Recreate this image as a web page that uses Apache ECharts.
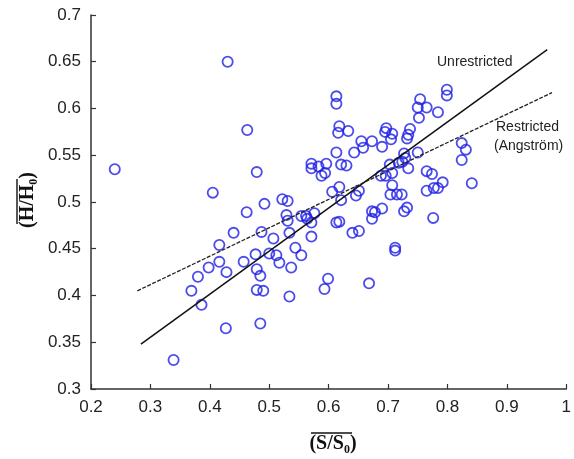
<!DOCTYPE html>
<html>
<head>
<meta charset="utf-8">
<script src="https://cdn.jsdelivr.net/npm/echarts@6/dist/echarts.min.js"></script>
<style>
html,body{margin:0;padding:0;background:#fff;}
#chart{width:574px;height:459px;}
</style>
</head>
<body>
<div id="chart"></div>
<script>
// Observed S/S0 values (x)
var sRatio = [
0.240,0.430,0.463,0.479,0.405,0.462,0.440,0.416,0.477,0.416,
0.457,0.398,0.428,0.380,0.479,0.485,0.369,0.479,0.490,0.386,
0.427,0.485,0.339,0.613,0.613,0.618,0.616,0.633,0.655,0.673,
0.658,0.690,0.613,0.643,0.571,0.571,0.583,0.596,0.588,0.594,
0.621,0.630,0.618,0.606,0.651,0.646,0.522,0.531,0.492,0.621,
0.697,0.695,0.707,0.705,0.737,0.734,0.732,0.754,0.750,0.765,
0.784,0.752,0.799,0.799,0.824,0.831,0.824,0.841,0.750,0.727,
0.729,0.724,0.718,0.734,0.703,0.707,0.688,0.696,0.707,0.704,
0.715,0.723,0.765,0.774,0.765,0.777,0.784,0.792,0.529,0.531,
0.554,0.562,0.564,0.571,0.576,0.613,0.618,0.673,0.678,0.690,
0.673,0.727,0.732,0.776,0.487,0.507,0.534,0.571,0.640,0.651,
0.500,0.512,0.517,0.544,0.554,0.537,0.534,0.599,0.593,0.668,
0.712,0.712
];
// Observed H/H0 values (y)
var hRatio = [
0.535,0.650,0.577,0.532,0.510,0.489,0.467,0.454,0.444,0.436,
0.436,0.430,0.425,0.420,0.428,0.421,0.405,0.406,0.405,0.390,
0.365,0.370,0.331,0.613,0.605,0.581,0.574,0.576,0.565,0.565,
0.558,0.559,0.553,0.553,0.541,0.536,0.538,0.541,0.528,0.531,
0.540,0.539,0.516,0.511,0.512,0.507,0.503,0.501,0.498,0.502,
0.579,0.575,0.573,0.567,0.578,0.572,0.568,0.610,0.601,0.601,
0.596,0.590,0.620,0.614,0.563,0.556,0.545,0.520,0.553,0.552,
0.547,0.543,0.542,0.536,0.540,0.531,0.528,0.528,0.518,0.508,
0.508,0.508,0.533,0.530,0.512,0.515,0.515,0.521,0.486,0.480,
0.485,0.485,0.482,0.478,0.488,0.478,0.479,0.490,0.489,0.493,
0.482,0.490,0.494,0.483,0.468,0.461,0.467,0.463,0.467,0.469,
0.445,0.443,0.435,0.451,0.443,0.430,0.399,0.418,0.407,0.413,
0.451,0.448
];
// Fitted lines (endpoints)
var unrestrictedX = [0.284, 0.968];
var unrestrictedY = [0.348, 0.663];
var restrictedX = [0.278, 0.976];
var restrictedY = [0.405, 0.617];
// Axis settings
var xMin = 0.2, xMax = 1.0, xStep = 0.1;
var yMin = 0.3, yMax = 0.7, yStep = 0.05;

var points = sRatio.map(function(v, i){ return [v, hRatio[i]]; });
var unres = unrestrictedX.map(function(v, i){ return [v, unrestrictedY[i]]; });
var res = restrictedX.map(function(v, i){ return [v, restrictedY[i]]; });

var chart = echarts.init(document.getElementById('chart'), null, {renderer:'canvas'});
var labelFont = {fontFamily:'Liberation Sans, Arial, sans-serif', fontSize:17, color:'#222'};
var axisCommon = {
  axisLine:{show:true, lineStyle:{color:'#333', width:1.5}},
  axisTick:{show:true, inside:true, length:5, lineStyle:{color:'#333', width:1.2}},
  splitLine:{show:false}
};
chart.setOption({
  animation:false,
  backgroundColor:'#fff',
  grid:{left:91, right:6, top:15, bottom:70, containLabel:false},
  xAxis:Object.assign({
    type:'value', min:xMin, max:xMax, interval:xStep,
    axisLabel:Object.assign({margin:10, formatter:function(v){return String(+v.toFixed(2));}}, labelFont)
  }, axisCommon),
  yAxis:Object.assign({
    type:'value', min:yMin, max:yMax, interval:yStep,
    axisLabel:Object.assign({margin:10, formatter:function(v){return String(+v.toFixed(2));}}, labelFont)
  }, axisCommon),
  series:[
    {type:'scatter', data:points, symbol:'circle', symbolSize:10.2,
     itemStyle:{color:'rgba(0,0,0,0)', borderColor:'#1f1fe6', borderWidth:1.8}, z:3},
    {type:'line', data:unres, showSymbol:false, symbol:'none',
     lineStyle:{color:'#111', width:1.5, type:'solid'}, z:4},
    {type:'line', data:res, showSymbol:false, symbol:'none',
     lineStyle:{color:'#222', width:1.3, type:[4,1.5]}, z:4}
  ],
  graphic:[
    {type:'text', left:437, top:55, style:{text:'Unrestricted', font:'14px "Liberation Sans", Arial, sans-serif', fill:'#222'}},
    {type:'text', left:496, top:120, style:{text:'Restricted', font:'14px "Liberation Sans", Arial, sans-serif', fill:'#222'}},
    {type:'text', left:494, top:139, style:{text:'(Angström)', font:'14px "Liberation Sans", Arial, sans-serif', fill:'#222'}},
    {type:'group', x:333, y:444, children:[
      {type:'text', x:0, y:0, style:{text:'(S/S\u2080)', font:'bold 20px "Liberation Serif", "DejaVu Serif", serif', fill:'#111', align:'center', verticalAlign:'middle'}},
      {type:'line', shape:{x1:-22, y1:-11, x2:19, y2:-11}, style:{stroke:'#111', lineWidth:1.4}}
    ]},
    {type:'group', x:28, y:200, rotation:Math.PI/2, children:[
      {type:'text', x:0, y:0, style:{text:'(H/H\u2080)', font:'bold 20px "Liberation Serif", "DejaVu Serif", serif', fill:'#111', align:'center', verticalAlign:'middle'}},
      {type:'line', shape:{x1:-24, y1:-11, x2:21, y2:-11}, style:{stroke:'#111', lineWidth:1.4}}
    ]}
  ]
});
</script>
</body>
</html>
